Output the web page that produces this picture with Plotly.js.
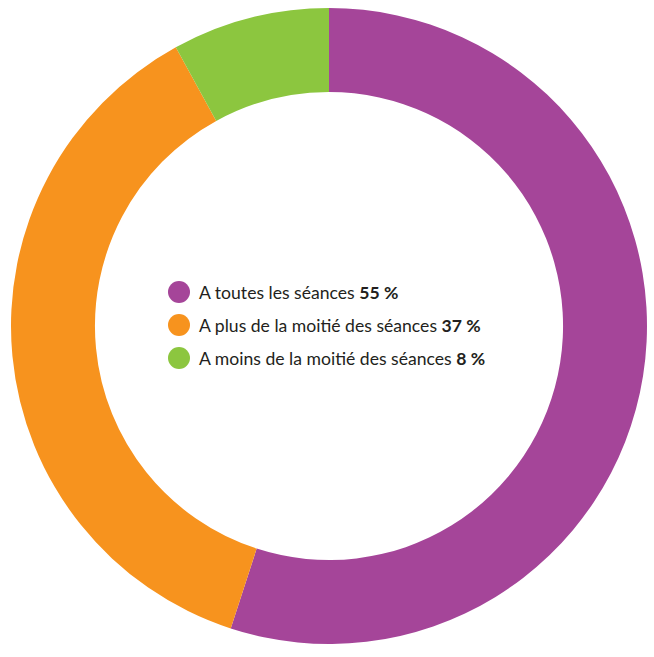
<!DOCTYPE html>
<html><head><meta charset="utf-8">
<script src="https://cdn.plot.ly/plotly-3.0.1.min.js"></script>
<style>body{margin:0;background:#fff}#c{width:654px;height:657px}</style>
</head><body><div id="c"></div>
<script>
const labels = ["A toutes les séances", "A plus de la moitié des séances", "A moins de la moitié des séances"];
const values = [55, 37, 8];
const colors = ["#A54599", "#F7931E", "#8CC63F"];

const W = 654, H = 657, M = {l: 11, r: 7, t: 8, b: 13};
const pw = W - M.l - M.r, ph = H - M.t - M.b;
const px = x => (x - M.l) / pw;
const py = y => 1 - (y - M.t) / ph;

const legX = 179, legY0 = 292, legDy = 33, rad = 11;
const annotations = [], shapes = [];
labels.forEach((lab, i) => {
  const y = legY0 + i * legDy;
  shapes.push({type: "circle", xref: "paper", yref: "paper",
    x0: px(legX - rad), x1: px(legX + rad), y0: py(y + rad), y1: py(y - rad),
    fillcolor: colors[i], line: {width: 0}});
  annotations.push({xref: "paper", yref: "paper", x: px(197), y: py(y),
    xanchor: "left", yanchor: "middle", showarrow: false,
    text: lab + " <b>" + values[i] + " %</b>",
    font: {family: "Lato, 'Open Sans', sans-serif", size: 17.6, color: "#231F20"}});
});

Plotly.newPlot("c", [{
  type: "pie", labels: labels, values: values, hole: 0.736,
  sort: false, direction: "clockwise", rotation: 0,
  marker: {colors: colors, line: {width: 0}},
  textinfo: "none", hoverinfo: "label+percent", showlegend: false
}], {
  width: W, height: H, margin: M, paper_bgcolor: "#fff",
  showlegend: false, annotations: annotations, shapes: shapes
}, {staticPlot: true});
</script></body></html>
